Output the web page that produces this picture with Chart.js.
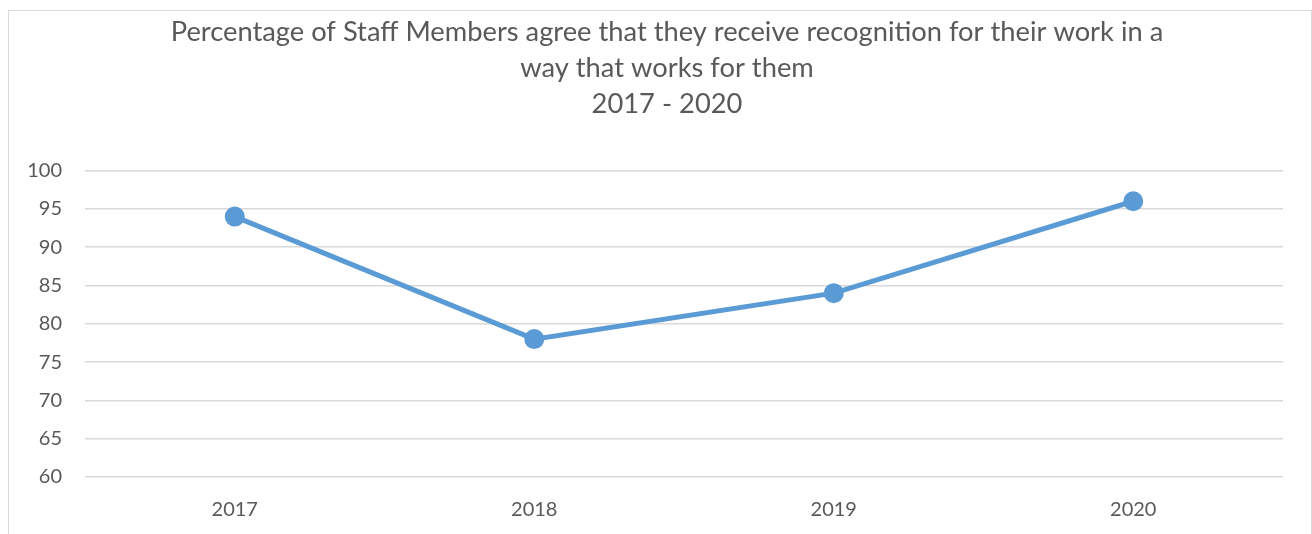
<!DOCTYPE html>
<html>
<head>
<meta charset="utf-8">
<script src="https://cdn.jsdelivr.net/npm/chart.js@4.4.1/dist/chart.umd.min.js"></script>
<style>
  body { margin: 0; background: #fff; overflow: hidden; }
  #box {
    position: absolute; left: 8px; top: 10px; width: 1302px; height: 530px;
    border: 1px solid #d9d9d9; border-bottom: none;
  }
  #box canvas { display: block; }
</style>
</head>
<body>
<div id="box"><canvas id="staffChart" width="1302" height="523"></canvas></div>
<script>
// 데이터
const years = ['2017', '2018', '2019', '2020'];
const agreePercent = [94, 78, 84, 96];
const titleLines = [
    'Percentage of Staff Members agree that they receive recognition for their work in a',
    'way that works for them',
    '2017 - 2020'
];

const textColor = '#595959';
const fontName = 'Lato, "Open Sans", sans-serif';

// 제목이 약간 오른쪽으로 치우쳐 있어서 제목 박스의 왼쪽을 옮김
const shiftTitle = {
    id: 'shiftTitle',
    afterLayout(chart) {
        if (chart.titleBlock) {
            chart.titleBlock.left += 42;
        }
    }
};

const ctx = document.getElementById('staffChart').getContext('2d');
new Chart(ctx, {
    type: 'line',
    data: {
        labels: years,
        datasets: [{
            label: 'Agree',
            data: agreePercent,
            borderColor: '#5b9bd5',
            backgroundColor: '#5b9bd5',
            borderWidth: 5,
            pointRadius: 7.5,
            pointHoverRadius: 7.5,
            tension: 0
        }]
    },
    options: {
        responsive: false,
        animation: false,
        layout: { padding: { left: 0, right: 28, top: 0, bottom: 0 } },
        plugins: {
            legend: { display: false },
            tooltip: { enabled: false },
            title: {
                display: true,
                text: titleLines,
                color: textColor,
                font: { family: fontName, size: 27.3, weight: 'normal', lineHeight: 1.32 },
                padding: { top: 3, bottom: 48.5 }
            }
        },
        scales: {
            x: {
                offset: true,
                grid: { display: false, drawTicks: false },
                border: { display: false },
                ticks: { color: textColor, font: { family: fontName, size: 20 }, padding: 21 },
                afterFit: function(scale) { scale.height = 57; }
            },
            y: {
                min: 60,
                max: 100,
                ticks: { stepSize: 5, color: textColor, font: { family: fontName, size: 20 }, padding: 23 },
                grid: { color: '#d9d9d9', lineWidth: 1.5, drawTicks: false },
                border: { display: false },
                afterFit: function(scale) { scale.width = 76; }
            }
        }
    },
    plugins: [shiftTitle]
});
</script>
</body>
</html>
